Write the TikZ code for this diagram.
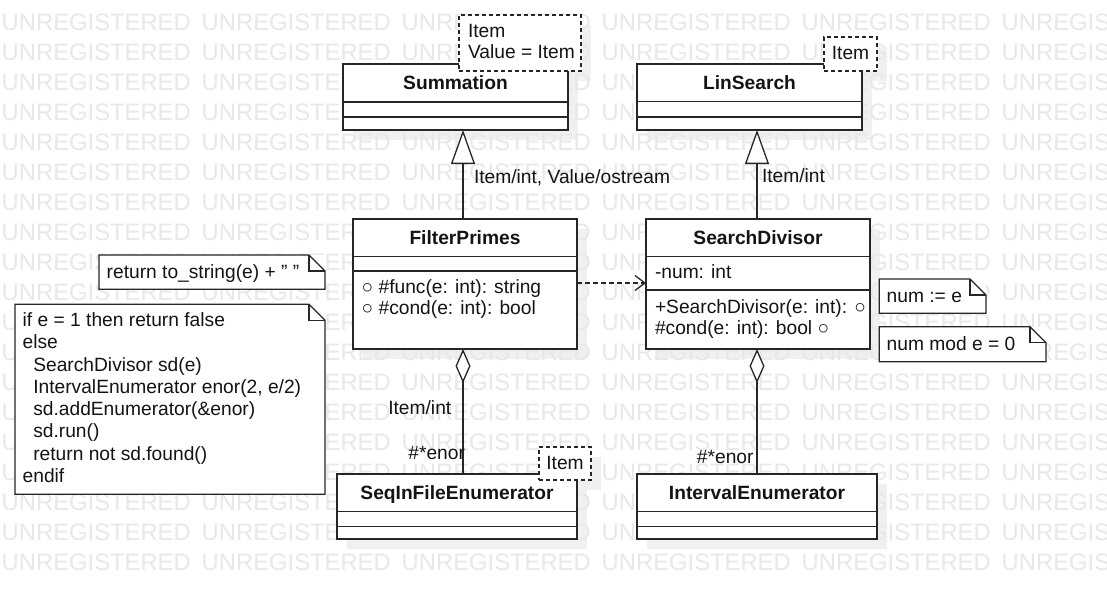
\documentclass[tikz,border=0pt]{standalone}
\usepackage{fontspec}
\setmainfont{Liberation Sans}
\usetikzlibrary{arrows.meta}
\begin{document}
\begin{tikzpicture}[x=1pt,y=-1pt,
  every node/.style={inner sep=0pt, outer sep=0pt},
  txt/.style={font=\fontsize{19.2}{22.3}\selectfont, text=black!92},
  ttl/.style={font=\fontsize{19.2}{22.3}\selectfont\bfseries, text=black!92, anchor=base},
  wm/.style={font=\fontsize{23.8}{28}\selectfont, text=black!9, anchor=base west},
  classbox/.style={draw=black!85, line width=1.3pt, fill=white, anchor=north west},
  tplbox/.style={draw=black!85, line width=1.2pt, fill=white, anchor=north west, dash pattern=on 4pt off 3pt},
  shadowbox/.style={fill=black!6, draw=none, anchor=north west},
  divider/.style={draw=black!85, line width=1.3pt},
  notebg/.style={fill=white, draw=none, anchor=north west},
  noteline/.style={draw=black!85, line width=1.3pt, line join=miter},
  gen/.style={draw=black!85, line width=1.3pt, -{Triangle[length=34pt,width=24pt,fill=white,line width=1.3pt]}},
  agg/.style={draw=black!85, line width=1.3pt, -{Diamond[length=34pt,width=15pt,fill=white,line width=1.3pt]}},
  dep/.style={draw=black!85, line width=1.3pt, dash pattern=on 5pt off 3pt, -{Straight Barb[length=10pt,width=15pt,line width=1.3pt]}}
]
\useasboundingbox (0,0) rectangle (1107,600);
\fill[white] (0,0) rectangle (1107,600);

% shadows
\begin{scope}
\clip (0,0) rectangle (1107,600);
\node[shadowbox, minimum width=225pt, minimum height=66pt] (sh-sum) at (353,74) {};
\node[shadowbox, minimum width=225pt, minimum height=66pt] (sh-lin) at (647,74) {};
\node[shadowbox, minimum width=224pt, minimum height=130pt] (sh-fp) at (363,229) {};
\node[shadowbox, minimum width=224pt, minimum height=130pt] (sh-sd) at (656,229) {};
\node[shadowbox, minimum width=240pt, minimum height=65pt] (sh-seq) at (347,484) {};
\node[shadowbox, minimum width=240pt, minimum height=65pt] (sh-ie) at (647,484) {};
\node[shadowbox, minimum width=122pt, minimum height=56pt] (sh-t1) at (469,25) {};
\node[shadowbox, minimum width=53pt, minimum height=34pt] (sh-t2) at (834,47) {};
\node[shadowbox, minimum width=52pt, minimum height=33pt] (sh-t3) at (549,457) {};

% watermark
\foreach \r in {0,...,18} {
  \foreach \c in {0,...,5} {
    \node[wm] (wm-\r-\c) at ({1.7+200*\c},{30.2+30*\r}) {UNREGISTERED};
  }
}
\end{scope}

% ---------- classes ----------
% Summation
\node[classbox, minimum width=225pt, minimum height=66pt] (sum) at (343,64) {};
\draw[divider] (343,102) -- (568,102);
\draw[divider] (343,117) -- (568,117);
\node[ttl] (sum-t) at (455.5,89.5) {Summation};

% LinSearch
\node[classbox, minimum width=225pt, minimum height=66pt] (lin) at (637,64) {};
\draw[divider] (637,101.5) -- (862,101.5);
\draw[divider] (637,117) -- (862,117);
\node[ttl] (lin-t) at (749.5,89.5) {LinSearch};

% FilterPrimes
\node[classbox, minimum width=224pt, minimum height=130pt] (fp) at (353,219) {};
\draw[divider] (353,256.7) -- (577,256.7);
\draw[divider] (353,271) -- (577,271);
\node[ttl] (fp-t) at (465,244.5) {FilterPrimes};
\node[txt, anchor=base west] (fp-m1) at (361.7,293.2) {○ \#func(e: int): string};
\node[txt, anchor=base west] (fp-m2) at (361.7,314.8) {○ \#cond(e: int): bool};

% SearchDivisor
\node[classbox, minimum width=224pt, minimum height=130pt] (sd) at (646,219) {};
\draw[divider] (646,256.7) -- (870,256.7);
\draw[divider] (646,290) -- (870,290);
\node[ttl] (sd-t) at (758,244.5) {SearchDivisor};
\node[txt, anchor=base west] (sd-a1) at (655,278.2) {-num: int};
\node[txt, anchor=base west] (sd-m1) at (655,313.8) {+SearchDivisor(e: int): ○};
\node[txt, anchor=base west] (sd-m2) at (655,334.8) {\#cond(e: int): bool ○};

% SeqInFileEnumerator
\node[classbox, minimum width=240pt, minimum height=65pt] (seq) at (337,474) {};
\draw[divider] (337,511.7) -- (577,511.7);
\draw[divider] (337,526.7) -- (577,526.7);
\node[ttl] (seq-t) at (457,499.5) {SeqInFileEnumerator};

% IntervalEnumerator
\node[classbox, minimum width=240pt, minimum height=65pt] (ie) at (637,474) {};
\draw[divider] (637,511.7) -- (877,511.7);
\draw[divider] (637,526.7) -- (877,526.7);
\node[ttl] (ie-t) at (757,499.5) {IntervalEnumerator};

% ---------- template parameter boxes ----------
\node[tplbox, minimum width=122pt, minimum height=56pt] (t1) at (459,15) {};
\node[txt, anchor=base west] (t1-a) at (468,37.2) {Item};
\node[txt, anchor=base west] (t1-b) at (468,58.8) {Value = Item};

\node[tplbox, minimum width=53pt, minimum height=34pt] (t2) at (824,37) {};
\node[txt, anchor=base] (t2-a) at (850.5,59.2) {Item};

\node[tplbox, minimum width=52pt, minimum height=33pt] (t3) at (539,447) {};
\node[txt, anchor=base] (t3-a) at (565,469.8) {Item};

% ---------- connectors ----------
\coordinate (xa) at (463,0);
\coordinate (xb) at (757,0);
\coordinate (yd) at (0,283);

\draw[gen] (fp.north -| xa) -- (sum.south -| xa);
\draw[gen] (sd.north -| xb) -- (lin.south -| xb);
\draw[agg] (seq.north -| xa) -- (fp.south -| xa);
\draw[agg] (ie.north -| xb) -- (sd.south -| xb);
\draw[dep] (fp.east |- yd) -- (sd.west |- yd);

\node[txt, anchor=base west] (l1) at (474,183.5) {Item/int, Value/ostream};
\node[txt, anchor=base west] (l2) at (762,182.5) {Item/int};
\node[txt, anchor=base west] (l3) at (388.3,414.8) {Item/int};
\node[txt, anchor=base east] (l4) at (465,459.8) {\#*enor};
\node[txt, anchor=base east] (l5) at (753.5,463.2) {\#*enor};

% ---------- notes ----------
\node[notebg, minimum width=106.7pt, minimum height=34.3pt] (n1) at (879.3,279) {};
\draw[noteline] (n1.north west) -- ([xshift=-16pt]n1.north east) -- ([yshift=-16pt]n1.north east) -- (n1.south east) -- (n1.south west) -- cycle;
\draw[noteline] ([xshift=-16pt]n1.north east) -- ([xshift=-16pt,yshift=-16pt]n1.north east) -- ([yshift=-16pt]n1.north east);
\node[txt, anchor=base west] (n1-t) at (886.7,302.2) {num := e};

\node[notebg, minimum width=166.7pt, minimum height=35pt] (n2) at (879.3,326.7) {};
\draw[noteline] (n2.north west) -- ([xshift=-16pt]n2.north east) -- ([yshift=-16pt]n2.north east) -- (n2.south east) -- (n2.south west) -- cycle;
\draw[noteline] ([xshift=-16pt]n2.north east) -- ([xshift=-16pt,yshift=-16pt]n2.north east) -- ([yshift=-16pt]n2.north east);
\node[txt, anchor=base west] (n2-t) at (886.7,350.5) {num mod e = 0};

\node[notebg, minimum width=226pt, minimum height=34.3pt] (n3) at (99,255) {};
\draw[noteline] (n3.north west) -- ([xshift=-16pt]n3.north east) -- ([yshift=-16pt]n3.north east) -- (n3.south east) -- (n3.south west) -- cycle;
\draw[noteline] ([xshift=-16pt]n3.north east) -- ([xshift=-16pt,yshift=-16pt]n3.north east) -- ([yshift=-16pt]n3.north east);
\node[txt, anchor=base west] (n3-t) at (106.7,278.2) {return to\_string(e) + " "};

\node[notebg, minimum width=310pt, minimum height=190pt] (n4) at (15,304.3) {};
\draw[noteline] (n4.north west) -- ([xshift=-16pt]n4.north east) -- ([yshift=-16pt]n4.north east) -- (n4.south east) -- (n4.south west) -- cycle;
\draw[noteline] ([xshift=-16pt]n4.north east) -- ([xshift=-16pt,yshift=-16pt]n4.north east) -- ([yshift=-16pt]n4.north east);
\node[txt, anchor=base west] (n4-1) at (22.7,326.5) {if e = 1 then return false};
\node[txt, anchor=base west] (n4-2) at (22.7,348.8) {else};
\node[txt, anchor=base west] (n4-3) at (33.3,371.1) {SearchDivisor sd(e)};
\node[txt, anchor=base west] (n4-4) at (33.3,393.3) {IntervalEnumerator enor(2, e/2)};
\node[txt, anchor=base west] (n4-5) at (33.3,415.6) {sd.addEnumerator(\&enor)};
\node[txt, anchor=base west] (n4-6) at (33.3,437.9) {sd.run()};
\node[txt, anchor=base west] (n4-7) at (33.3,460.2) {return not sd.found()};
\node[txt, anchor=base west] (n4-8) at (22.7,482.5) {endif};
\end{tikzpicture}
\end{document}
